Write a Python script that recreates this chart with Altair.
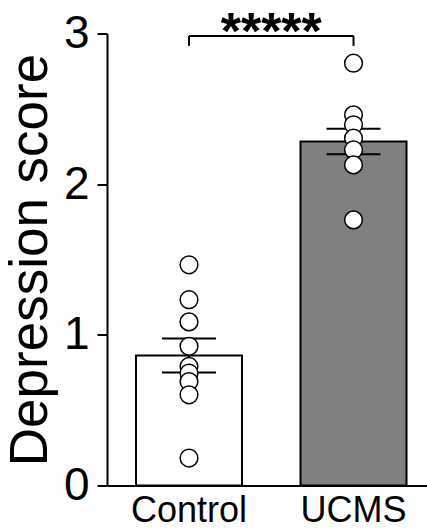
import altair as alt
import pandas as pd

# ---- data ----
groups = ["Control", "UCMS"]
means = [0.863, 2.283]
sems = [0.113, 0.085]
control_points = [1.465, 1.233, 1.086, 0.924, 0.790, 0.746, 0.690, 0.602, 0.182]
ucms_points = [2.803, 2.460, 2.394, 2.305, 2.228, 2.128, 1.763]
bracket_top = 2.984
bracket_bottom = 2.918
star_level = 2.90
star_label = "*****"

# ---- layout ----
PLOT_W, PLOT_H = 320, 452
P_INNER, P_OUTER, ALIGN = 0.3556, 0.1504, 0.586
STEP = PLOT_W / (len(groups) - P_INNER + 2 * P_OUTER)
FONT = "Liberation Sans"

summary = pd.DataFrame({
    "group": groups,
    "mean": means,
    "lo": [m - s for m, s in zip(means, sems)],
    "hi": [m + s for m, s in zip(means, sems)],
})
points = pd.DataFrame({
    "group": ["Control"] * len(control_points) + ["UCMS"] * len(ucms_points),
    "value": control_points + ucms_points,
})
bracket_h = pd.DataFrame({"a": [groups[0]], "b": [groups[1]], "y": [bracket_top]})
bracket_v = pd.DataFrame({"group": groups, "y": [bracket_bottom] * 2, "y2": [bracket_top] * 2})
stars = pd.DataFrame({"group": [groups[0]], "y": [star_level], "t": [star_label]})

xscale = alt.Scale(domain=groups, paddingInner=P_INNER, paddingOuter=P_OUTER, align=ALIGN)
yscale = alt.Scale(domain=[0, 3], nice=False, zero=True)

x_enc = alt.X(
    "group:N", scale=xscale,
    axis=alt.Axis(title=None, ticks=False, labelAngle=0, labelFontSize=36, labelFont=FONT,
                  labelColor="black", labelPadding=8, domainColor="black", domainWidth=2),
)
y_axis = alt.Axis(
    values=[0, 1, 2, 3], format="d", title="Depression score", titleFontSize=53, titleFont=FONT,
    titleFontWeight="normal", titleColor="black", titlePadding=6,
    labelFontSize=46, labelFont=FONT, labelColor="black", labelPadding=8,
    tickSize=10, tickWidth=2, tickColor="black", domainColor="black", domainWidth=2,
    grid=False,
)

bars = alt.Chart(summary).mark_bar(stroke="black", strokeWidth=2).encode(
    x=x_enc,
    y=alt.Y("mean:Q", scale=yscale, axis=y_axis),
    fill=alt.Fill("group:N", scale=alt.Scale(domain=groups, range=["white", "#808080"]), legend=None),
)

err_v = alt.Chart(summary).mark_rule(color="black", strokeWidth=2).encode(
    x="group:N", y="lo:Q", y2="hi:Q"
)
err_lo = alt.Chart(summary).mark_tick(color="black", thickness=2, size=54, opacity=1).encode(
    x="group:N", y="lo:Q"
)
err_hi = alt.Chart(summary).mark_tick(color="black", thickness=2, size=54, opacity=1).encode(
    x="group:N", y="hi:Q"
)

pts = alt.Chart(points).mark_point(
    shape="circle", filled=True, fill="white", stroke="black", strokeWidth=1.5, size=314, opacity=1
).encode(x="group:N", y="value:Q")

br_h = alt.Chart(bracket_h).mark_rule(color="black", strokeWidth=2).encode(
    x="a:N", x2="b:N", y="y:Q"
)
br_v = alt.Chart(bracket_v).mark_rule(color="black", strokeWidth=2).encode(
    x="group:N", y="y:Q", y2="y2:Q"
)
star_txt = alt.Chart(stars).mark_text(
    font=FONT, fontSize=52, fontWeight="bold", color="black", align="center",
    baseline="alphabetic", dx=STEP / 2
).encode(x="group:N", y="y:Q", text="t:N")

chart = alt.layer(bars, err_v, err_lo, err_hi, pts, br_h, br_v, star_txt).properties(
    width=PLOT_W, height=PLOT_H,
    autosize=alt.AutoSizeParams(type="none"),
    padding={"left": 107, "top": 33.5, "right": 0, "bottom": 43.5},
).configure_view(stroke=None, strokeWidth=0)

chart.save("out.html", embed_options={"renderer": "svg", "actions": False})
